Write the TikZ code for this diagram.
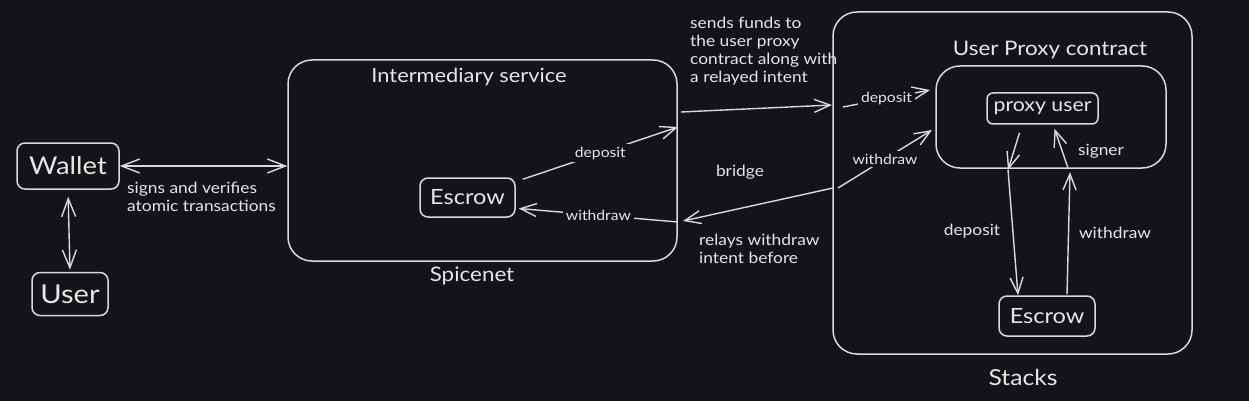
\documentclass[tikz,border=0pt]{standalone}
\usepackage{fontspec}
\setmainfont{Lato}[FakeStretch=1.12]
\usetikzlibrary{arrows.meta}
\definecolor{bg}{HTML}{121418}
\definecolor{fg}{HTML}{DADADA}
\definecolor{tx}{HTML}{E6E6E6}
\begin{document}
\begin{tikzpicture}[x=1pt,y=-1pt,
  box/.style={draw=fg, line width=1.5pt, rounded corners=8pt, text=tx, inner sep=0pt},
  cont/.style={draw=fg, line width=1.5pt, rounded corners=24pt, inner sep=0pt},
  arr/.style={draw=fg, line width=1.4pt, -{Straight Barb[length=16pt,width=13pt]}},
  darr/.style={draw=fg, line width=1.4pt, {Straight Barb[length=18pt,width=14pt]}-{Straight Barb[length=18pt,width=14pt]}},
  lbl/.style={fill=bg, text=tx, inner sep=3pt, font=\fontsize{14}{17}\selectfont},
  note/.style={text=tx, inner sep=0pt, align=left, font=\fontsize{15.5}{18}\selectfont},
  big/.style={font=\fontsize{24.5}{28}\selectfont},
  mid/.style={font=\fontsize{21}{25}\selectfont},
  ttl/.style={text=tx, inner sep=0pt, font=\fontsize{20}{24}\selectfont}
]
\fill[bg] (0,0) rectangle (1249,401);
\useasboundingbox (0,0) rectangle (1249,401);

% containers
\node[cont, minimum width=389pt, minimum height=201pt] (inter) at (482.5,160.5) {};
\node[ttl, font=\fontsize{19.5}{24}\selectfont] (intertitle) at (469,77) {Intermediary service};
\node[ttl] (spicenet) at (472,276) {Spicenet};

\node[cont, minimum width=359pt, minimum height=342pt] (stacks) at (1012.5,183) {};
\node[ttl, font=\fontsize{22}{26}\selectfont] (stackslbl) at (1023,377) {Stacks};
\node[ttl] (proxytitle) at (1050,50) {User Proxy contract};
\node[cont, minimum width=230pt, minimum height=102pt] (inner) at (1051,117) {};

% boxes
\node[box, big, minimum width=102pt, minimum height=46pt] (wallet) at (68,166) {Wallet};
\node[box, big, font=\fontsize{26}{30}\selectfont, minimum width=76pt, minimum height=43pt] (user) at (70,294) {User};
\node[box, mid, minimum width=95pt, minimum height=39pt] (escL) at (467.5,197.5) {Escrow};
\node[box, font=\fontsize{19}{23}\selectfont, minimum width=111pt, minimum height=31pt, rounded corners=6pt] (proxy) at (1042.5,108.5) {proxy user};
\node[box, mid, minimum width=96pt, minimum height=40pt] (escR) at (1047,316) {Escrow};

% free coordinates
\coordinate (d1) at (678,127);
\coordinate (w1) at (678,222);
\coordinate (s1) at (681,112);
\coordinate (s2) at (832,105);
\coordinate (s3) at (843,107);
\coordinate (s4) at (930,90);
\coordinate (b1) at (838,188);
\coordinate (b2) at (932,130);
\coordinate (b3) at (833,188);
\coordinate (b4) at (683,221);
\coordinate (p1) at (1008,170);
\coordinate (p2) at (1070,172);
\coordinate (p3) at (1068,168);

% connectors
\draw[darr] (wallet.east) -- (wallet.east -| inter.west);
\draw[darr, shorten <=7pt, shorten >=2pt] (wallet.south) -- (user.north);

\draw[arr] ([xshift=7pt,yshift=-2pt]escL.north east) -- node[lbl] {deposit} (d1);
\draw[arr] (w1) -- node[lbl] {withdraw} ([xshift=3pt,yshift=-11pt]escL.east);

\draw[arr] (s1) -- (s2);
\draw[arr] (s3) -- node[lbl] {deposit} (s4);
\draw[arr] (b1) -- node[lbl] {withdraw} (b2);
\draw[arr] (b3) -- (b4);

\draw[arr] ([xshift=-23pt,yshift=-8pt]proxy.south) -- (p1);
\draw[arr] (p1) -- ([xshift=-29pt]escR.north);
\draw[arr] ([xshift=20pt,yshift=1pt]escR.north) -- (p2);
\draw[arr] (p3) -- ([xshift=12pt,yshift=-4pt]proxy.south);

% free labels
\node[note, anchor=west] (signs) at (127,197) {signs and verifies\\atomic transactions};
\node[note, anchor=north west] (sends) at (690,17) {sends funds to\\the user proxy\\contract along with\\a relayed intent};
\node[note] (bridge) at (740,172) {bridge};
\node[note, anchor=west] (relays) at (699,249) {relays withdraw\\intent before};
\node[note] (dep2) at (972,231) {deposit};
\node[note] (wd2) at (1115,233) {withdraw};
\node[note] (signer) at (1101,151) {signer};
\end{tikzpicture}
\end{document}
